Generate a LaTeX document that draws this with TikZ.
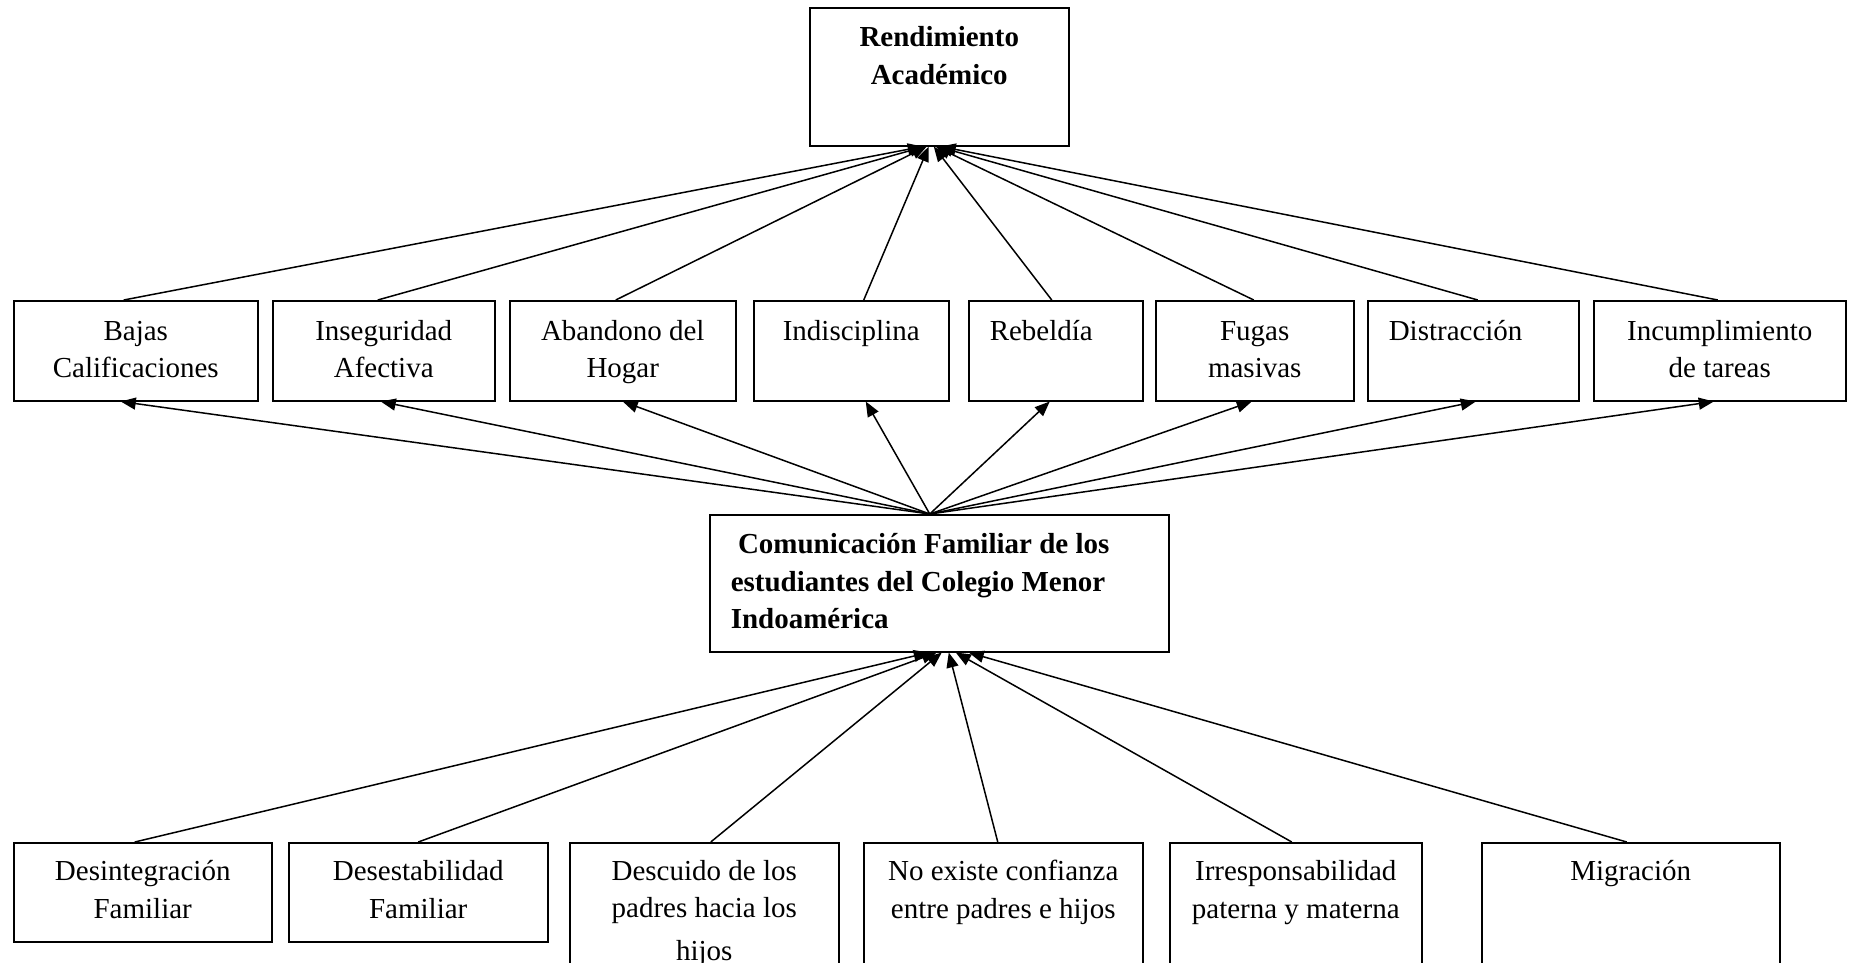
\documentclass[tikz,border=0pt]{standalone}
\usepackage{fontspec}
\setmainfont{Liberation Serif}
\usetikzlibrary{arrows.meta}
% centred box text: width, height, first baseline, line skip, text
\newcommand\boxc[5]{\parbox[t][#2][t]{#1}{\fontsize{29}{#4}\selectfont\centering\rule{0pt}{#3}#5}}
% left box text: width, height, first baseline, line skip, left pad, text
\newcommand\boxl[6]{\parbox[t][#2][t]{#1}{\fontsize{29}{#4}\selectfont\raggedright\leftskip=#5\relax\rule{0pt}{#3}#6}}
\tikzset{
  box/.style={draw, line width=1.5pt, inner sep=0pt, anchor=north west},
  arr/.style={line width=1.5pt, -{Triangle[length=15pt,width=12pt]}},
}
\begin{document}
\begin{tikzpicture}[x=1pt,y=-1pt]
\useasboundingbox (0,0) rectangle (1850,962);
\clip (0,0) rectangle (1850,962);
\fill[white] (0,0) rectangle (1850,962);

% top
\node[box] (T) at (809,7) {\boxc{259pt}{138pt}{39pt}{38pt}{\bfseries Rendimiento\\Académico}};

% middle row
\node[box] (m1) at (13,300)   {\boxc{244pt}{100pt}{40pt}{37pt}{Bajas\\Calificaciones}};
\node[box] (m2) at (272,300)  {\boxc{222pt}{100pt}{40pt}{37pt}{Inseguridad\\Afectiva}};
\node[box] (m3) at (509,300)  {\boxc{226pt}{100pt}{40pt}{37pt}{Abandono del\\Hogar}};
\node[box] (m4) at (753,300)  {\boxc{195pt}{100pt}{40pt}{37pt}{Indisciplina}};
\node[box] (m5) at (968,300)  {\boxl{174pt}{100pt}{40pt}{37pt}{21pt}{Rebeldía}};
\node[box] (m6) at (1155,300) {\boxc{198pt}{100pt}{40pt}{37pt}{Fugas\\masivas}};
\node[box] (m7) at (1367,300) {\boxl{211pt}{100pt}{40pt}{37pt}{21pt}{Distracción}};
\node[box] (m8) at (1593,300) {\boxc{252pt}{100pt}{40pt}{37pt}{Incumplimiento\\de tareas}};

% centre
\node[box] (C) at (709,514) {\boxl{459pt}{137pt}{39pt}{37.5pt}{21pt}{\bfseries\ Comunicación Familiar de los\\estudiantes del Colegio Menor\\Indoamérica}};

% bottom row
\node[box] (b1) at (13,842)   {\boxc{258pt}{99pt}{38pt}{38pt}{Desintegración\\Familiar}};
\node[box] (b2) at (288,842)  {\boxc{259pt}{99pt}{38pt}{38pt}{Desestabilidad\\Familiar}};
\node[box] (b3) at (569,842)  {\boxc{269pt}{140pt}{38pt}{37pt}{Descuido de los\\padres hacia los\\[6pt]hijos}};
\node[box] (b4) at (863,842)  {\boxc{279pt}{140pt}{38pt}{38pt}{No existe confianza\\entre padres e hijos}};
\node[box] (b5) at (1169,842) {\boxc{252pt}{140pt}{38pt}{38pt}{Irresponsabilidad\\paterna y materna}};
\node[box] (b6) at (1481,842) {\boxc{298pt}{140pt}{38pt}{38pt}{Migración}};

% middle row -> top
\draw[arr] ([xshift=-12pt]m1.north)   -- ([xshift=-16.5pt]T.south);
\draw[arr] ([xshift=-6pt]m2.north)    -- ([xshift=-14.5pt]T.south);
\draw[arr] ([xshift=-7pt]m3.north)    -- ([xshift=-12.5pt]T.south);
\draw[arr] ([xshift=12.5pt]m4.north)  -- ([xshift=-10.5pt]T.south);
\draw[arr] ([xshift=-4pt]m5.north)    -- ([xshift=-5.5pt]T.south);
\draw[arr] ([xshift=-1pt]m6.north)    -- ([xshift=-3.5pt]T.south);
\draw[arr] ([xshift=4.5pt]m7.north)   -- ([xshift=-1.5pt]T.south);
\draw[arr] ([xshift=-2pt]m8.north)    -- ([xshift=1.5pt]T.south);

% centre -> middle row
\coordinate (cs) at ([xshift=-9.5pt]C.north);
\draw[arr] (cs) -- ([xshift=-15pt]m1.south);
\draw[arr] (cs) -- ([xshift=-3pt]m2.south);
\draw[arr] (cs) -- ([xshift=0pt]m3.south);
\draw[arr] (cs) -- ([xshift=14.5pt]m4.south);
\draw[arr] (cs) -- ([xshift=-6pt]m5.south);
\draw[arr] (cs) -- ([xshift=-3pt]m6.south);
\draw[arr] (cs) -- ([xshift=2.5pt]m7.south);
\draw[arr] (cs) -- ([xshift=-6pt]m8.south);

% bottom row -> centre
\draw[arr] ([xshift=-8pt]b1.north)   -- ([xshift=-10.5pt]C.south);
\draw[arr] ([xshift=0pt]b2.north)    -- ([xshift=-2.5pt]C.south);
\draw[arr] ([xshift=6.5pt]b3.north)  -- ([xshift=2.5pt]C.south);
\draw[arr] ([xshift=-5.5pt]b4.north) -- ([xshift=9.5pt]C.south);
\draw[arr] ([xshift=-4pt]b5.north)   -- ([xshift=16.5pt]C.south);
\draw[arr] ([xshift=-4pt]b6.north)   -- ([xshift=29.5pt]C.south);
\end{tikzpicture}
\end{document}
